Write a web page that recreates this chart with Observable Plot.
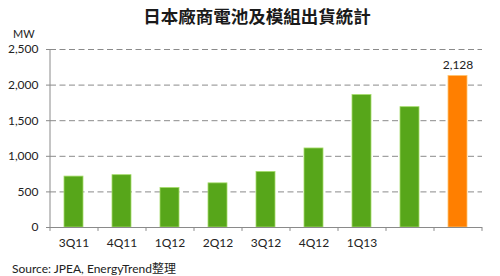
<!DOCTYPE html>
<html>
<head>
<meta charset="utf-8">
<script src="https://cdn.jsdelivr.net/npm/d3@7"></script>
<script src="https://cdn.jsdelivr.net/npm/@observablehq/plot@0.6"></script>
<style>
  html, body { margin: 0; padding: 0; background: #fff; }
  #wrap { position: relative; width: 500px; height: 276px; overflow: hidden;
    font-family: Lato, "Noto Sans CJK TC", sans-serif; color: #222; }
  #title { height: 26px; line-height: 32px; text-align: center; font-size: 17.5px; font-weight: bold;
    font-family: "Noto Sans CJK TC", sans-serif; padding-left: 14px; color: #1a1a1a; }
  #unit { position: absolute; left: 13px; top: 27px; font-size: 11px; }
  #caption { position: absolute; left: 12px; top: 259px; font-size: 12px; }
  svg { display: block; }
</style>
</head>
<body>
<div id="wrap">
  <div id="title">日本廠商電池及模組出貨統計</div>
  <div id="unit">MW</div>
  <div id="chart"></div>
  <div id="caption">Source: JPEA, EnergyTrend整理</div>
</div>
<script>
const quarters = ["3Q11", "4Q11", "1Q12", "2Q12", "3Q12", "4Q12", "1Q13", "2Q13", "3Q13"];
const shipments = [715, 735, 555, 620, 780, 1110, 1860, 1690, 2128];
const highlight = [false, false, false, false, false, false, false, false, true];
const yTicks = [0, 500, 1000, 1500, 2000, 2500];
const labelled = ["3Q13"];
const shownQuarterLabels = ["3Q11", "4Q11", "1Q12", "2Q12", "3Q12", "4Q12", "1Q13"];

const data = quarters.map((q, i) => ({q, v: shipments[i], hi: highlight[i]}));
const step = 48;

const chart = Plot.plot({
  width: 500,
  height: 232,
  marginLeft: 50,
  marginRight: 18,
  marginTop: 23,
  marginBottom: 31,
  style: {fontFamily: "Lato, 'Noto Sans CJK TC', sans-serif", fontSize: "12px", color: "#222", background: "transparent"},
  x: {domain: quarters, paddingInner: 0.6, paddingOuter: 0.3, align: 0.5, label: null},
  y: {domain: [0, 2500], label: null},
  marks: [
    Plot.ruleY(yTicks.filter(d => d > 0), {stroke: "#8a8a8a", strokeDasharray: "6,3.5", strokeWidth: 1}),
    Plot.barY(data, {x: "q", y: "v", fill: d => d.hi ? "#ff7f00" : "#57a61a",
      stroke: d => d.hi ? "#ffc36e" : "#a6dc6a", strokeWidth: 0.8}),
    Plot.ruleY([0], {stroke: "#8a8a8a"}),
    Plot.ruleX([quarters[0]], {x: d => d, dx: -step / 2, y1: 0, y2: 2500, stroke: "#8a8a8a"}),
    Plot.ruleX(quarters, {x: d => d, dx: -step / 2, y1: 0, y2: -55, stroke: "#8a8a8a"}),
    Plot.ruleX([quarters[quarters.length - 1]], {x: d => d, dx: step / 2, y1: 0, y2: -55, stroke: "#8a8a8a"}),
    Plot.text(data.filter(d => labelled.includes(d.q)), {x: "q", y: "v", text: d => d3.format(",")(d.v),
      dy: -11, fontSize: 12, fill: "#222"}),
    Plot.axisY({ticks: yTicks, tickFormat: d3.format(","), tickSize: 4, tickPadding: 8, stroke: "#8a8a8a", fontSize: 12}),
    Plot.axisX({ticks: shownQuarterLabels, tickSize: 0, tickPadding: 11, fontSize: 12})
  ]
});
document.getElementById("chart").appendChild(chart);
</script>
</body>
</html>
